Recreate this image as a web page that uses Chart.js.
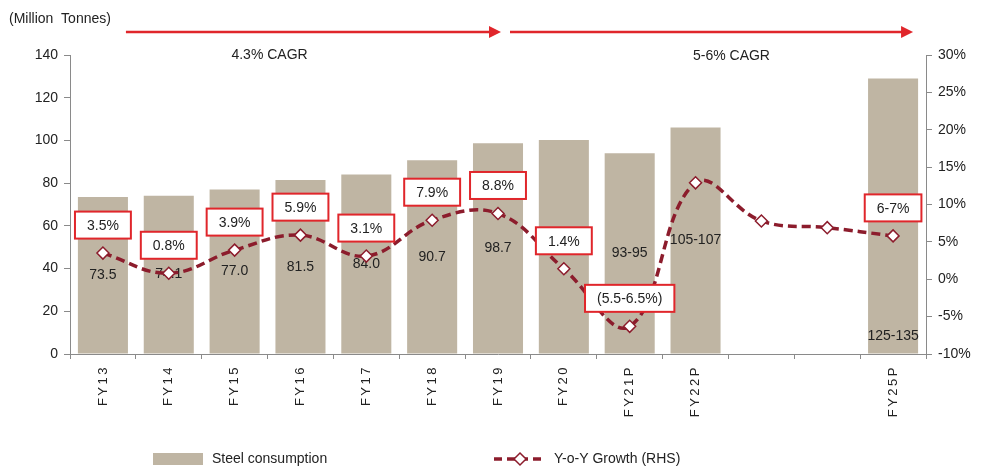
<!DOCTYPE html>
<html>
<head>
<meta charset="utf-8">
<script src="https://cdn.jsdelivr.net/npm/chart.js@4.4.1/dist/chart.umd.min.js"></script>
<style>
  html, body { margin: 0; padding: 0; background: #fff; }
</style>
</head>
<body>
<canvas id="steelChart" width="985" height="472"></canvas>
<script>
// data
const categories = ['FY13', 'FY14', 'FY15', 'FY16', 'FY17', 'FY18', 'FY19', 'FY20', 'FY21P', 'FY22P', '', '', 'FY25P'];
const consumption = [73.5, 74.1, 77.0, 81.5, 84.0, 90.7, 98.7, 100.2, 94, 106, null, null, 129];
const consumptionLabels = ['73.5', '74.1', '77.0', '81.5', '84.0', '90.7', '98.7', '', '93-95', '105-107', '', '', '125-135'];
const growth = [3.5, 0.8, 3.9, 5.9, 3.1, 7.9, 8.8, 1.4, -6.3, 12.9, 7.8, 6.9, 5.8];
const growthLabels = ['3.5%', '0.8%', '3.9%', '5.9%', '3.1%', '7.9%', '8.8%', '1.4%', '(5.5-6.5%)', '', '', '', '6-7%'];
const cagrLabels = ['4.3% CAGR', '5-6% CAGR'];

const FONT = '"Liberation Sans", Arial, sans-serif';
const BAR_COL = '#bfb5a3';
const LINE_COL = '#8c1c2c';
const RED = '#e0262b';
const AXIS_COL = '#8a8a8a';

// wider letter spacing on the rotated category labels
const spacedX = {
    id: 'spacedX',
    afterLayout(chart) {
        const xs = chart.scales.x;
        if (xs._spaced) return;
        const orig = xs.drawLabels.bind(xs);
        xs.drawLabels = function(area) {
            chart.ctx.save();
            chart.ctx.letterSpacing = '2.5px';
            orig(area);
            chart.ctx.restore();
        };
        xs._spaced = true;
    }
};

// value labels in the middle of bars, drawn before the line
const barLabels = {
    id: 'barLabels',
    afterDatasetDraw(chart, args) {
        if (args.meta.type !== 'bar') return;
        const ctx = chart.ctx;
        ctx.save();
        ctx.font = '14px ' + FONT;
        ctx.fillStyle = '#222';
        ctx.textAlign = 'center';
        ctx.textBaseline = 'middle';
        const last = args.meta.data.length - 1;
        args.meta.data.forEach((bar, i) => {
            const txt = consumptionLabels[i];
            if (!txt) return;
            let y = (bar.y + bar.base) / 2;
            if (i === last) y = bar.base - 17;
            ctx.fillText(txt, bar.x, y);
        });
        ctx.restore();
    }
};

// boxed growth labels, CAGR arrows, unit label and legend
const extras = {
    id: 'extras',
    afterDatasetsDraw(chart) {
        const ctx = chart.ctx;
        const x = chart.scales.x;
        const lineMeta = chart.getDatasetMeta(0);
        ctx.save();
        ctx.font = '14px ' + FONT;
        ctx.textAlign = 'center';
        ctx.textBaseline = 'middle';
        lineMeta.data.forEach((pt, i) => {
            const txt = growthLabels[i];
            if (!txt) return;
            const w = ctx.measureText(txt).width + 24;
            const h = 27;
            const cy = pt.y - 28;
            ctx.fillStyle = '#fff';
            ctx.fillRect(pt.x - w / 2, cy - h / 2, w, h);
            ctx.strokeStyle = RED;
            ctx.lineWidth = 2;
            ctx.strokeRect(pt.x - w / 2, cy - h / 2, w, h);
            ctx.fillStyle = '#222';
            ctx.fillText(txt, pt.x, cy + 1);
        });

        // arrows
        const arrow = (x0, x1, y) => {
            ctx.strokeStyle = RED;
            ctx.fillStyle = RED;
            ctx.lineWidth = 2.5;
            ctx.beginPath();
            ctx.moveTo(x0, y);
            ctx.lineTo(x1 - 10, y);
            ctx.stroke();
            ctx.beginPath();
            ctx.moveTo(x1, y);
            ctx.lineTo(x1 - 12, y - 6);
            ctx.lineTo(x1 - 12, y + 6);
            ctx.closePath();
            ctx.fill();
        };
        arrow(x.getPixelForValue(0) + 23, x.getPixelForValue(6) + 3, 32);
        arrow(x.getPixelForValue(6) + 12, x.getPixelForValue(12) + 20, 32);

        ctx.fillStyle = '#222';
        ctx.font = '14px ' + FONT;
        ctx.fillText(cagrLabels[0], (x.getPixelForValue(1) + x.getPixelForValue(4)) / 2 + 2, 55);
        ctx.fillText(cagrLabels[1], (x.getPixelForValue(9) + x.getPixelForValue(10)) / 2 + 3, 56);

        ctx.textAlign = 'left';
        ctx.fillText('(Million  Tonnes)', 9, 19);

        // legend
        const ly = 459;
        ctx.fillStyle = BAR_COL;
        ctx.fillRect(153, ly - 6, 50, 12);
        ctx.fillStyle = '#222';
        ctx.fillText('Steel consumption', 212, ly);

        ctx.strokeStyle = LINE_COL;
        ctx.lineWidth = 3.5;
        ctx.setLineDash([8, 5]);
        ctx.beginPath();
        ctx.moveTo(494, ly);
        ctx.lineTo(546, ly);
        ctx.stroke();
        ctx.setLineDash([]);
        ctx.fillStyle = '#fff';
        ctx.lineWidth = 1.5;
        ctx.beginPath();
        ctx.moveTo(520, ly - 6);
        ctx.lineTo(526, ly);
        ctx.lineTo(520, ly + 6);
        ctx.lineTo(514, ly);
        ctx.closePath();
        ctx.fill();
        ctx.stroke();
        ctx.fillStyle = '#222';
        ctx.fillText('Y-o-Y Growth (RHS)', 554, ly);
        ctx.restore();
    }
};

const ctx = document.getElementById('steelChart');
const steelChart = new Chart(ctx, {
    type: 'bar',
    data: {
        labels: categories,
        datasets: [{
            type: 'line',
            label: 'Y-o-Y Growth (RHS)',
            data: growth,
            yAxisID: 'y1',
            order: 0,
            borderColor: LINE_COL,
            borderWidth: 3.5,
            borderDash: [9, 5],
            tension: 0.4,
            fill: false,
            pointStyle: 'rectRot',
            pointRadius: 6,
            pointBackgroundColor: '#fff',
            pointBorderColor: LINE_COL,
            pointBorderWidth: 1.5
        }, {
            label: 'Steel consumption',
            data: consumption,
            yAxisID: 'y',
            order: 1,
            backgroundColor: BAR_COL,
            barPercentage: 0.76,
            categoryPercentage: 1
        }]
    },
    options: {
        responsive: false,
        animation: false,
        layout: { padding: { top: 55, left: 0, right: 0, bottom: 0 } },
        plugins: {
            legend: { display: false },
            tooltip: { enabled: false }
        },
        scales: {
            x: {
                grid: { drawOnChartArea: false, offset: true, tickLength: 5, color: AXIS_COL },
                border: { color: AXIS_COL },
                ticks: {
                    minRotation: 90, maxRotation: 90, autoSkip: false,
                    color: '#222', font: { family: FONT, size: 13 }, padding: 6
                },
                afterFit: s => { s.height = 118; }
            },
            y: {
                position: 'left',
                min: 0, max: 140,
                ticks: { stepSize: 20, color: '#222', font: { family: FONT, size: 14 }, padding: 6 },
                grid: { drawOnChartArea: false, tickLength: 6, color: AXIS_COL },
                border: { color: AXIS_COL },
                afterFit: s => { s.width = 70; }
            },
            y1: {
                position: 'right',
                min: -10, max: 30,
                ticks: { stepSize: 5, color: '#222', font: { family: FONT, size: 14 }, padding: 6,
                    callback: v => v + '%' },
                grid: { drawOnChartArea: false, tickLength: 6, color: AXIS_COL },
                border: { color: AXIS_COL },
                afterFit: s => { s.width = 59; }
            }
        }
    },
    plugins: [spacedX, barLabels, extras]
});
</script>
</body>
</html>
